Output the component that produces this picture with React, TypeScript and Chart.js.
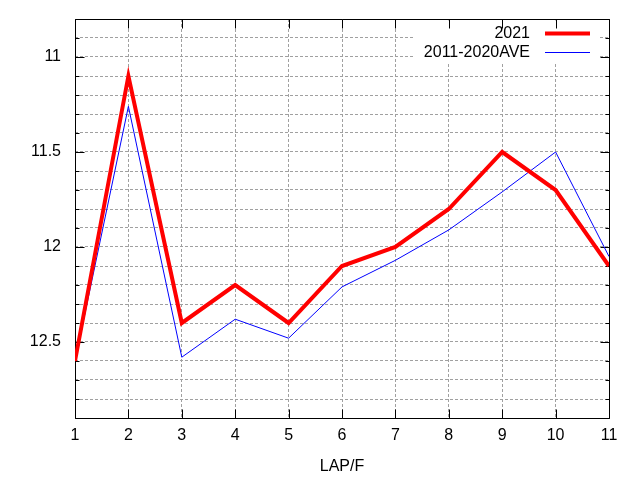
import { useEffect, useRef } from "react"
import { Chart, registerables } from "chart.js"
import type { Plugin } from "chart.js"

Chart.register(...registerables)

const laps = [1, 2, 3, 4, 5, 6, 7, 8, 9, 10, 11]
const times2021 = [12.6, 11.1, 12.4, 12.2, 12.4, 12.1, 12.0, 11.8, 11.5, 11.7, 12.1]
const timesAve = [12.6, 11.26, 12.58, 12.38, 12.48, 12.21, 12.07, 11.91, 11.71, 11.5, 12.05]
const seriesLabels = ["2021", "2011-2020AVE"]
const majorYTicks = [11, 11.5, 12, 12.5]

const FONT = "'Liberation Sans', Arial, sans-serif"

// gnuplot look: white key box, black frame, ticks pointing inward on all sides
const gnuplotFrame: Plugin<"line"> = {
  id: "gnuplotFrame",
  beforeDatasetsDraw(chart) {
    const { ctx, chartArea: a } = chart
    const y = chart.scales["y"]
    const x = chart.scales["x"]
    const L = Math.round(a.left) + 0.5
    const R = Math.round(a.right) + 0.5
    const T = Math.round(a.top) + 0.5
    const B = Math.round(a.bottom) + 0.5

    ctx.save()
    ctx.fillStyle = "#fff"
    ctx.fillRect(413, T + 1, 185, 62 - T)

    ctx.setLineDash([])
    ctx.strokeStyle = "#000"
    ctx.lineWidth = 1
    ctx.beginPath()
    for (let i = 108; i <= 129; i++) {
      const v = i / 10
      const py = Math.round(y.getPixelForValue(v)) + 0.5
      const len = majorYTicks.includes(v) ? 9 : 4
      ctx.moveTo(L, py)
      ctx.lineTo(L + len, py)
      ctx.moveTo(R, py)
      ctx.lineTo(R - len, py)
    }
    for (const l of laps) {
      const px = Math.round(x.getPixelForValue(l)) + 0.5
      ctx.moveTo(px, B)
      ctx.lineTo(px, B - 9)
      ctx.moveTo(px, T)
      ctx.lineTo(px, T + 9)
    }
    ctx.rect(L, T, R - L, B - T)
    ctx.stroke()

    ctx.font = `16px ${FONT}`
    ctx.textAlign = "right"
    ctx.textBaseline = "middle"
    chart.data.datasets.forEach((ds, i) => {
      const cy = 33 + i * 19
      ctx.fillStyle = "#000"
      ctx.fillText(String(ds.label), 530, cy + 1)
      ctx.strokeStyle = String(ds.borderColor)
      ctx.lineWidth = Number(ds.borderWidth)
      ctx.beginPath()
      ctx.moveTo(545, cy + 0.5)
      ctx.lineTo(590, cy + 0.5)
      ctx.stroke()
    })
    ctx.restore()
  },
}

export default function App() {
  const canvasRef = useRef<HTMLCanvasElement>(null)

  useEffect(() => {
    if (!canvasRef.current) return

    const chart = new Chart(canvasRef.current, {
      type: "line",
      data: {
        datasets: [
          {
            label: seriesLabels[0],
            data: laps.map((l, i) => ({ x: l, y: times2021[i] })),
            borderColor: "#ff0000",
            borderWidth: 4,
            pointRadius: 0,
            tension: 0,
          },
          {
            label: seriesLabels[1],
            data: laps.map((l, i) => ({ x: l, y: timesAve[i] })),
            borderColor: "#0000ff",
            borderWidth: 1,
            pointRadius: 0,
            tension: 0,
          },
        ],
      },
      options: {
        responsive: false,
        animation: false,
        layout: { padding: { left: 0, right: 31, top: 19, bottom: 0 } },
        scales: {
          x: {
            type: "linear",
            min: 1,
            max: 11,
            ticks: { stepSize: 1, color: "#000", font: { family: FONT, size: 16 }, padding: 8 },
            grid: { color: "#a0a0a0", drawTicks: false, tickLength: 0 },
            border: { display: false, dash: [3, 2] },
            title: { display: true, text: "LAP/F", color: "#000", font: { family: FONT, size: 16 }, padding: { top: 8 } },
            afterFit: (s) => {
              s.height = 62
              s.paddingLeft = 0
              s.paddingRight = 0
            },
          },
          y: {
            reverse: true,
            min: 10.8,
            max: 12.9,
            ticks: {
              stepSize: 0.1,
              autoSkip: false,
              color: "#000",
              font: { family: FONT, size: 16 },
              padding: 14,
              callback: (value) => {
                const v = Math.round(Number(value) * 10) / 10
                return majorYTicks.includes(v) ? String(v) : ""
              },
            },
            grid: { color: "#a0a0a0", drawTicks: false, tickLength: 0 },
            border: { display: false, dash: [3, 2] },
            afterFit: (s) => {
              s.width = 75
              s.paddingTop = 0
              s.paddingBottom = 0
            },
          },
        },
        plugins: {
          legend: { display: false },
          tooltip: { enabled: false },
        },
      },
      plugins: [gnuplotFrame],
    })

    return () => {
      chart.destroy()
    }
  }, [])

  return (
    <div style={{ position: "absolute", left: 0, top: 0, width: 640, height: 480, background: "#fff" }}>
      <canvas ref={canvasRef} width={640} height={480} />
    </div>
  )
}
